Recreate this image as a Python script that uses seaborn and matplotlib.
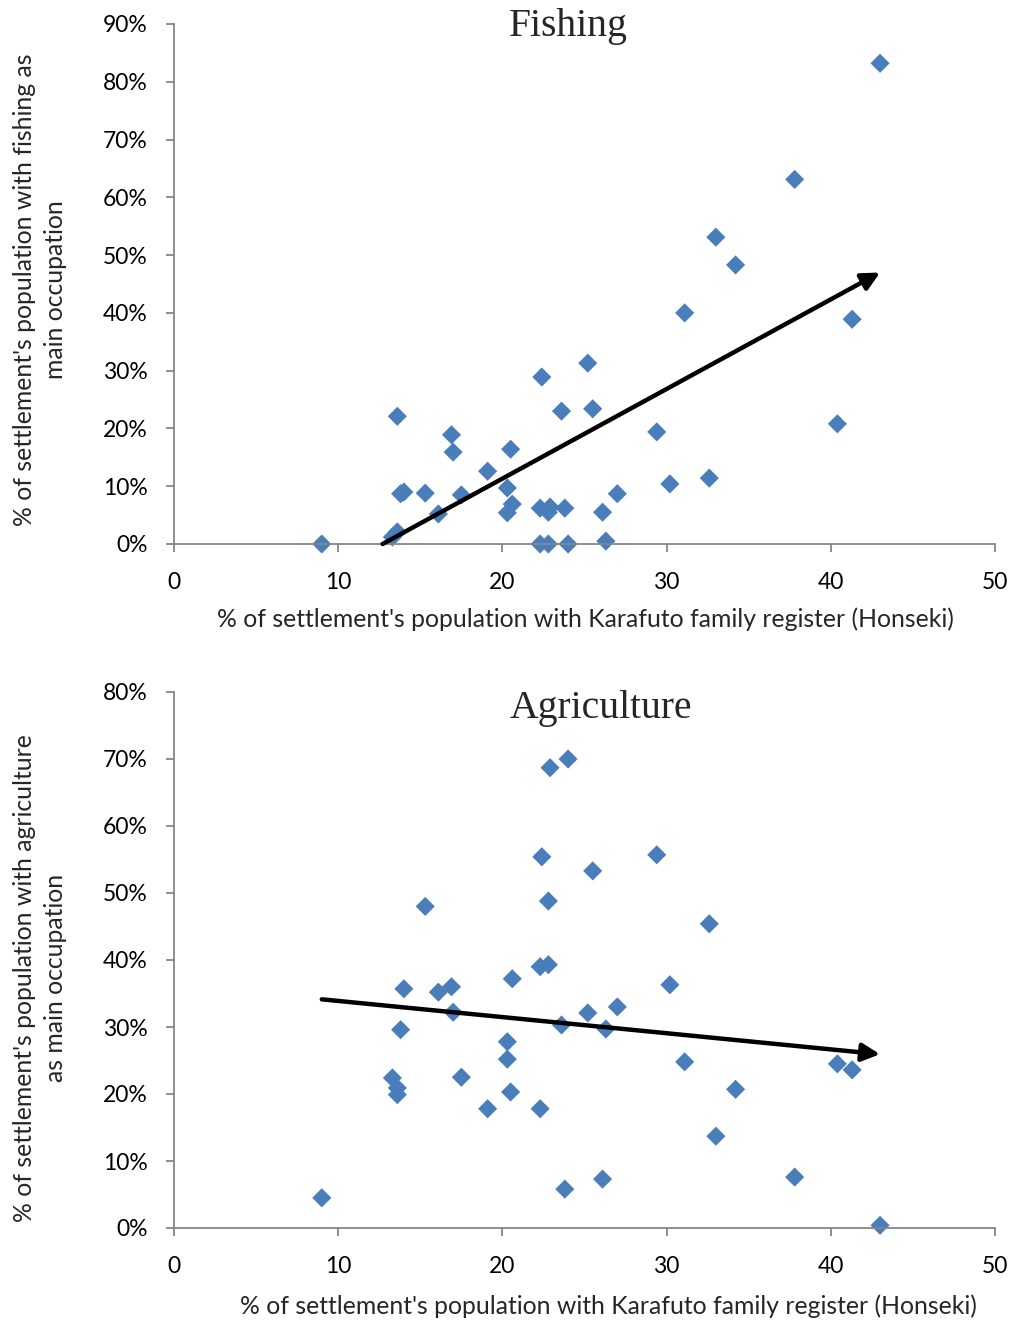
import numpy as np
import pandas as pd
import matplotlib
matplotlib.use("Agg")
import matplotlib.pyplot as plt
import seaborn as sns
from matplotlib.ticker import FuncFormatter

# Share of each settlement's population holding a Karafuto family register (Honseki), %
honseki = [9.0, 13.3, 13.6, 13.6, 13.8, 14.0, 15.3, 16.1, 16.9, 17.0,
           17.5, 19.1, 20.3, 20.3, 20.5, 20.6, 22.4, 22.3, 22.3, 22.8,
           22.8, 22.9, 23.6, 23.8, 24.0, 25.2, 25.5, 26.1, 26.3, 27.0,
           29.4, 30.2, 31.1, 32.6, 33.0, 34.2, 37.8, 40.4, 41.3, 43.0]

# Share with fishing as main occupation, %
fishing = [0.0, 1.2, 2.1, 22.1, 8.7, 9.0, 8.8, 5.2, 18.9, 15.9,
           8.5, 12.6, 9.7, 5.4, 16.4, 6.9, 28.9, 6.2, 0.0, 5.5,
           0.0, 6.4, 23.0, 6.2, 0.0, 31.3, 23.4, 5.5, 0.5, 8.7,
           19.4, 10.4, 40.0, 11.4, 53.1, 48.3, 63.1, 20.8, 38.9, 83.2]

# Share with agriculture as main occupation, %
agriculture = [4.5, 22.4, 20.9, 19.9, 29.6, 35.7, 48.0, 35.2, 36.0, 32.2,
               22.5, 17.8, 27.8, 25.2, 20.3, 37.2, 55.4, 39.0, 17.8, 39.3,
               48.8, 68.7, 30.3, 5.8, 70.0, 32.1, 53.3, 7.3, 29.7, 33.0,
               55.7, 36.3, 24.8, 45.4, 13.7, 20.7, 7.6, 24.5, 23.6, 0.4]

# Linear trends (slope, intercept) drawn as arrows
fishing_trend = (1.551, -19.7)
agriculture_trend = (-0.241, 36.3)

x_ticks = [0, 10, 20, 30, 40, 50]
fishing_yticks = list(range(0, 91, 10))
agri_yticks = list(range(0, 81, 10))

df = pd.DataFrame({"honseki": honseki, "fishing": fishing, "agriculture": agriculture})

sns.set_theme(style="ticks")
plt.rcParams["font.family"] = ["Lato", "DejaVu Sans"]

W, H = 1014, 1322
fig = plt.figure(figsize=(W / 100, H / 100), dpi=100)

def px_axes(left, top, right, bottom):
    return fig.add_axes([left / W, 1 - bottom / H, (right - left) / W, (bottom - top) / H])

ax1 = px_axes(174, 24, 995, 544)
ax2 = px_axes(174, 692, 995, 1228)

blue = "#4A7EBB"
grey = "#868686"
pct = FuncFormatter(lambda v, _: f"{v:.0f}%")
xlabel_text = "% of settlement's population with Karafuto family register (Honseki)"

def style(ax, yticks, ymax, trend, xstart, title, title_x, title_y):
    ax.set_xlim(0, 50)
    ax.set_ylim(0, ymax)
    ax.set_xticks(x_ticks)
    ax.set_yticks(yticks)
    ax.yaxis.set_major_formatter(pct)
    for s in ["top", "right"]:
        ax.spines[s].set_visible(False)
    for s in ["left", "bottom"]:
        ax.spines[s].set_color(grey)
        ax.spines[s].set_linewidth(1.3)
    ax.tick_params(axis="both", colors=grey, length=6, width=1.3,
                   labelcolor="black", labelsize=16.5, direction="out")
    ax.tick_params(axis="x", pad=14)
    ax.tick_params(axis="y", pad=13)
    ax.set_xlabel("")
    ax.set_ylabel("")
    ax.text(title_x, title_y, title, transform=ax.transAxes, ha="center", va="top",
            fontsize=28.5, family="Liberation Serif")
    slope, intercept = trend
    x0, x1 = xstart, 43.0
    ax.annotate("", xy=(x1, slope * x1 + intercept), xytext=(x0, slope * x0 + intercept),
                arrowprops=dict(arrowstyle="-|>,head_length=0.9,head_width=0.45",
                                color="black", lw=3.2, shrinkA=0, shrinkB=0),
                zorder=3, annotation_clip=False)

sns.scatterplot(data=df, x="honseki", y="fishing", ax=ax1, marker="D", s=95,
                color=blue, edgecolor="none", zorder=2, clip_on=False)
sns.scatterplot(data=df, x="honseki", y="agriculture", ax=ax2, marker="D", s=95,
                color=blue, edgecolor="none", zorder=2, clip_on=False)

fish_x0 = -fishing_trend[1] / fishing_trend[0]
style(ax1, fishing_yticks, 90, fishing_trend, fish_x0, "Fishing", 0.48, 1.03)
style(ax2, agri_yticks, 80, agriculture_trend, min(honseki), "Agriculture", 0.52, 1.003)

def fig_text(xp, yp, s, **kw):
    fig.text(xp / W, 1 - yp / H, s, ha="center", va="center", fontsize=17.8, **kw)

fig_text(585, 619, xlabel_text)
fig_text(608, 1306, xlabel_text)
fig_text(40, 290, "% of settlement's population with fishing as\nmain occupation",
         rotation=90, linespacing=1.4, multialignment="center")
fig_text(40, 978, "% of settlement's population with agriculture\nas main occupation",
         rotation=90, linespacing=1.4, multialignment="center")

fig.savefig("out.png", dpi=100)
